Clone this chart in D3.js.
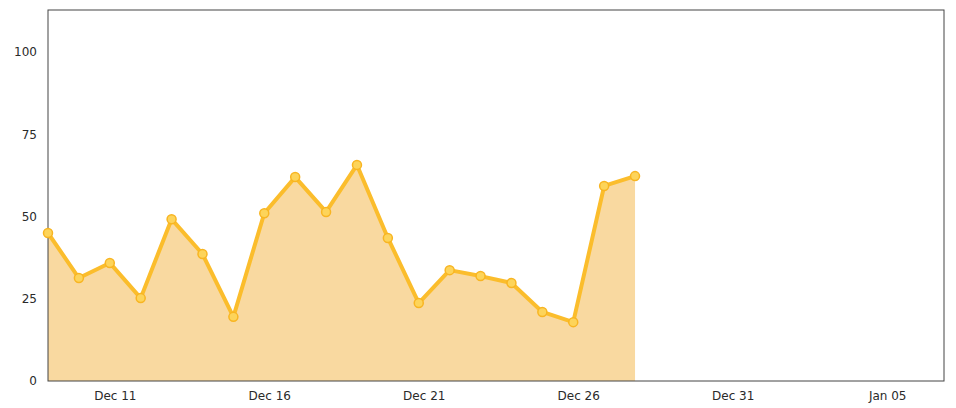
<!DOCTYPE html>
<html>
<head>
<meta charset="utf-8">
<script src="https://cdn.jsdelivr.net/npm/d3@7"></script>
<style>
  body { margin: 0; background: #fff; }
  .tick text { font-family: "DejaVu Sans", sans-serif; font-size: 12px; fill: #2a2a2a; }
</style>
</head>
<body>
<div id="chart"></div>
<script>
const FRAME_WIDTH = 956;
const FRAME_HEIGHT = 408;
const MARGINS = {left: 48, right: 12, top: 10, bottom: 27};
const VIS_WIDTH = FRAME_WIDTH - MARGINS.left - MARGINS.right;
const VIS_HEIGHT = FRAME_HEIGHT - MARGINS.top - MARGINS.bottom;

// daily values, Dec 9 .. Dec 28
const DAYS = ["2011-12-09", "2011-12-10", "2011-12-11", "2011-12-12", "2011-12-13",
              "2011-12-14", "2011-12-15", "2011-12-16", "2011-12-17", "2011-12-18",
              "2011-12-19", "2011-12-20", "2011-12-21", "2011-12-22", "2011-12-23",
              "2011-12-24", "2011-12-25", "2011-12-26", "2011-12-27", "2011-12-28"];
const VALUES = [45, 31.3, 35.9, 25.2, 49.2, 38.6, 19.5, 51, 62, 51.4,
                65.7, 43.5, 23.7, 33.7, 31.9, 29.8, 21, 17.9, 59.3, 62.3];
const Y_TICKS = [0, 25, 50, 75, 100];
const X_TICKS = ["2011-12-11", "2011-12-16", "2011-12-21", "2011-12-26", "2011-12-31", "2012-01-05"];
const X_START = "2011-12-09";
const X_END = "2012-01-07";

const parse = d3.utcParse("%Y-%m-%d");
const data = DAYS.map((d, i) => ({date: parse(d), value: VALUES[i]}));

const svg = d3.select("#chart")
  .append("svg")
    .attr("width", FRAME_WIDTH)
    .attr("height", FRAME_HEIGHT);

const X_SCALE = d3.scaleUtc()
  .domain([parse(X_START), parse(X_END)])
  .range([0, VIS_WIDTH]);

const Y_SCALE = d3.scaleLinear()
  .domain([0, 112.8])
  .range([VIS_HEIGHT, 0]);

const g = svg.append("g")
  .attr("transform", "translate(" + MARGINS.left + "," + MARGINS.top + ")");

// area under the line
g.append("path")
  .datum(data)
  .attr("fill", "#f9d9a0")
  .attr("d", d3.area()
    .x(d => X_SCALE(d.date))
    .y0(Y_SCALE(0))
    .y1(d => Y_SCALE(d.value)));

// plot frame
g.append("rect")
  .attr("width", VIS_WIDTH)
  .attr("height", VIS_HEIGHT)
  .attr("fill", "none")
  .attr("stroke", "#444")
  .attr("stroke-width", 1);

g.append("path")
  .datum(data)
  .attr("fill", "none")
  .attr("stroke", "#fbbd2c")
  .attr("stroke-width", 4)
  .attr("stroke-linejoin", "round")
  .attr("d", d3.line()
    .x(d => X_SCALE(d.date))
    .y(d => Y_SCALE(d.value)));

g.selectAll(".dot")
  .data(data)
  .enter()
  .append("circle")
    .attr("class", "dot")
    .attr("cx", d => X_SCALE(d.date))
    .attr("cy", d => Y_SCALE(d.value))
    .attr("r", 4.5)
    .attr("fill", "#fdd45a")
    .attr("stroke", "#f8b522")
    .attr("stroke-width", 1.5);

// x axis
const xAxis = g.append("g")
  .attr("transform", "translate(0," + VIS_HEIGHT + ")")
  .call(d3.axisBottom(X_SCALE)
    .tickValues(X_TICKS.map(parse))
    .tickFormat(d3.utcFormat("%b %d"))
    .tickSize(0)
    .tickPadding(10));
xAxis.select(".domain").remove();
xAxis.selectAll("text").attr("dx", 5);

// y axis
const yAxis = g.append("g")
  .call(d3.axisLeft(Y_SCALE)
    .tickValues(Y_TICKS)
    .tickSize(0)
    .tickPadding(11));
yAxis.select(".domain").remove();
</script>
</body>
</html>
